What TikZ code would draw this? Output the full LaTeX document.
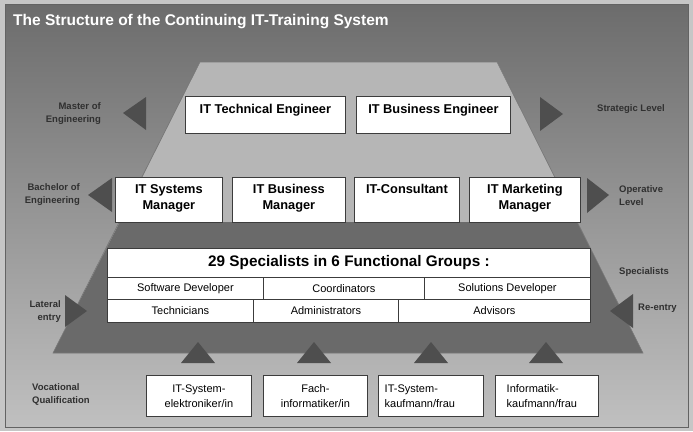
\documentclass[tikz,border=0pt]{standalone}
\usepackage{fontspec}
\setmainfont{Liberation Sans}
\usetikzlibrary{positioning}
\definecolor{bgtop}{HTML}{6C6C6C}
\definecolor{bgbot}{HTML}{C0C0C0}
\definecolor{upperfill}{HTML}{B6B6B6}
\definecolor{lowerfill}{HTML}{6A6A6A}
\definecolor{trifill}{HTML}{4E4E4E}
\definecolor{edgegray}{HTML}{3C3C3C}
\definecolor{lbltext}{HTML}{303030}
\tikzset{
    box/.style={draw=edgegray, fill=white, line width=0.8pt, inner sep=0pt, anchor=north west},
    boxtext/.style={font=\bfseries\fontsize{12.8}{16.5}\selectfont, align=center, inner sep=0pt},
    celltext/.style={font=\fontsize{11}{13}\selectfont},
    voctext/.style={font=\fontsize{11}{15}\selectfont, inner sep=0pt},
    sidelbl/.style={font=\bfseries\fontsize{9.5}{13}\selectfont, text=lbltext, inner sep=0pt},
    arrowtri/.style={fill=trifill, draw=none}
}
\begin{document}
\begin{tikzpicture}[x=1pt,y=-1pt]
    \useasboundingbox (0,0) rectangle (693,431);
    \fill[gray!45] (0,0) rectangle (693,431);
    \shade[top color=bgtop, bottom color=bgbot] (5,4) rectangle (688,427);
    \draw[edgegray!80, line width=0.8pt] (5,4) rectangle (688,427);

    \node[anchor=base west, text=white, font=\bfseries\fontsize{15.5}{18}\selectfont, inner sep=0pt] (title) at (13,25) {The Structure of the Continuing IT-Training System};

    \fill[upperfill] (200,62) -- (497,62) -- (577,222) -- (120,222) -- cycle;
    \fill[lowerfill] (120,222) -- (577,222) -- (643,353) -- (53,353) -- cycle;
    \draw[edgegray!70, line width=0.6pt] (200,62) -- (497,62) -- (643,353) -- (53,353) -- cycle;

    \foreach \x/\w/\n/\t in {185/160/techEng/{IT Technical Engineer}, 356/154/busEng/{IT Business Engineer}}
    {
        \node[box, minimum width=\w, minimum height=37] (\n) at (\x,96) {};
        \node[boxtext, below=8pt of \n.north] (\n-t) {\t};
    }
    \foreach \x/\w/\n/\t in {115/107/sysMan/{IT Systems\\Manager}, 232/113/busMan/{IT Business\\Manager}, 354/105/consult/{IT-Consultant}, 469/111/mktMan/{IT Marketing\\Manager}}
    {
        \node[box, minimum width=\w, minimum height=45] (\n) at (\x,177) {};
        \node[boxtext, below=7pt of \n.north] (\n-t) {\t};
    }

    \node[box, minimum width=483, minimum height=29, font=\bfseries\fontsize{15.3}{18}\selectfont] (spec) at (107,248) {29 Specialists in 6 Functional Groups :};
    \foreach \x/\w/\n/\t in {107/156/swDev/Software Developer, 263/161/coord/Coordinators, 424/166/solDev/Solutions Developer}
    {
        \node[box, celltext, minimum width=\w, minimum height=22] (\n) at (\x,277) {\t};
    }
    \foreach \x/\w/\n/\t in {107/146/tech/Technicians, 253/145/admin/Administrators, 398/192/advis/Advisors}
    {
        \node[box, celltext, minimum width=\w, minimum height=23] (\n) at (\x,299) {\t};
    }

    \fill[arrowtri] (123,113) -- (146,97) -- (146,130) -- cycle;
    \fill[arrowtri] (88,195) -- (112,178) -- (112,212) -- cycle;
    \fill[arrowtri] (87,311) -- (65,295) -- (65,327) -- cycle;
    \fill[arrowtri] (563,114) -- (540,97) -- (540,131) -- cycle;
    \fill[arrowtri] (609,195) -- (587,178) -- (587,213) -- cycle;
    \fill[arrowtri] (610,311) -- (633,294) -- (633,328) -- cycle;
    \foreach \c in {198,314,431,546}
    {
        \fill[arrowtri] (\c-17,363) -- (\c,342) -- (\c+17,363) -- cycle;
    }

    \node[sidelbl, anchor=east, align=right] (master) at (101,114) {Master of\\Engineering};
    \node[sidelbl, anchor=east, align=right] (bachelor) at (80,195) {Bachelor of\\Engineering};
    \node[sidelbl, anchor=east, align=right] (lateral) at (61,312) {Lateral\\entry};
    \node[sidelbl, anchor=west] (strategic) at (597,109) {Strategic Level};
    \node[sidelbl, anchor=west, align=left] (operative) at (619,196) {Operative\\Level};
    \node[sidelbl, anchor=west] (speclbl) at (619,272) {Specialists};
    \node[sidelbl, anchor=west] (reentry) at (638,308) {Re-entry};
    \node[sidelbl, anchor=west, align=left] (vocational) at (32,394) {Vocational\\Qualification};

    \foreach \x/\w/\n/\dx/\al/\t in {146/105/sysElek/0/center/{IT-System-\\elektroniker/in}, 263/104/fachInf/0/center/{Fach-\\informatiker/in}, 378/105/sysKauf/-11/left/{IT-System-\\kaufmann/frau}, 495/103/infKauf/-5/left/{Informatik-\\kaufmann/frau}}
    {
        \node[box, minimum width=\w, minimum height=41] (\n) at (\x,375) {};
        \node[voctext, align=\al] (\n-t) at ([xshift=\dx pt]\n.center) {\t};
    }
\end{tikzpicture}
\end{document}
